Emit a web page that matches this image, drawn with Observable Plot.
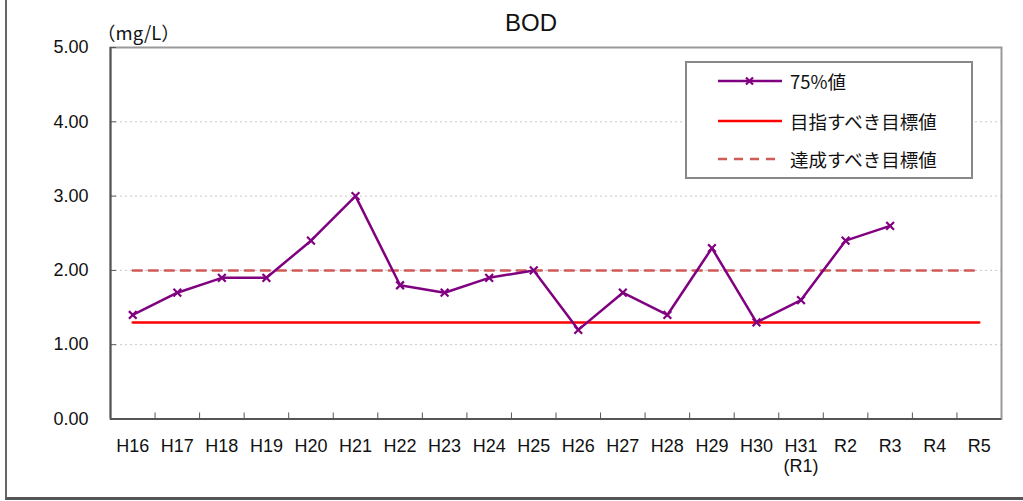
<!DOCTYPE html>
<html>
<head>
<meta charset="utf-8">
<script src="https://cdn.jsdelivr.net/npm/d3@7"></script>
<script src="https://cdn.jsdelivr.net/npm/@observablehq/plot@0.6"></script>
<style>
  html, body { margin: 0; padding: 0; background: #fff; }
  #wrap { position: relative; width: 1023px; height: 501px; overflow: hidden; font-family: "Liberation Sans", Arial, sans-serif; }
  #outer { position: absolute; left: 5px; top: -4px; width: 1030px; height: 504px; border-left: 2px solid #666; border-bottom: 3px solid #555; box-sizing: border-box; }
  #title { position: absolute; left: 0; width: 1062px; top: 9px; text-align: center; font-size: 24px; color: #111; }
  #unit { position: absolute; left: 97px; top: 19px; font-size: 18.5px; color: #111; font-family: "Noto Sans CJK JP", sans-serif; }
  #legend { position: absolute; left: 685px; top: 61px; width: 288px; height: 118px; border: 2px solid #888; box-sizing: border-box; background: #fff; }
  .row { position: absolute; left: 0; height: 24px; display: flex; align-items: center; }
  .row svg { margin-left: 31px; }
  .row span { margin-left: 8px; font-family: "Noto Sans CJK JP", sans-serif; font-size: 18.5px; color: #111; }
  #chart { position: absolute; left: 0; top: 0; }
</style>
</head>
<body>
<div id="wrap">
  <div id="chart"></div>
  <div id="outer"></div>
  <div id="title"></div>
  <div id="unit"></div>
  <div id="legend"></div>
</div>
<script>
const title = "BOD";
const unit = "（mg/L）";
const years = ["H16","H17","H18","H19","H20","H21","H22","H23","H24","H25","H26","H27","H28","H29","H30","H31\n(R1)","R2","R3","R4","R5"];
const values75 = [1.4,1.7,1.9,1.9,2.4,3.0,1.8,1.7,1.9,2.0,1.2,1.7,1.4,2.3,1.3,1.6,2.4,2.6,null,null];
const targetAim = 1.3;
const targetReach = 2.0;
const yTicks = [0,1,2,3,4,5];
const gridTicks = [1,2,3,4];
const seriesNames = ["75%値","目指すべき目標値","達成すべき目標値"];
const colors = {v75: "#800080", aim: "#ff0000", reach: "#d05a55"};

const rows = years.map((y, i) => ({year: y, v: values75[i]}));
const aimRows = years.map(y => ({year: y, v: targetAim}));
const reachRows = years.map(y => ({year: y, v: targetReach}));

const W = 1023, H = 501, ML = 110, MR = 22, MT = 47, MB = 82.5;
const bw = (W - ML - MR) / years.length;

const chart = Plot.plot({
  width: W, height: H,
  marginLeft: ML, marginRight: MR, marginTop: MT, marginBottom: MB,
  style: {fontFamily: "'Liberation Sans', Arial, sans-serif", fontSize: "18px", color: "#111", background: "transparent"},
  x: {type: "band", domain: years, padding: 0, round: false, label: null},
  y: {domain: [0, 5], label: null},
  marks: [
    Plot.gridY(gridTicks, {stroke: "#c8c8c8", strokeOpacity: 1, strokeDasharray: "2,3", strokeWidth: 1}),
    Plot.frame({stroke: "#999", strokeWidth: 2}),
    Plot.axisY(yTicks, {tickSize: -6, text: null, stroke: "#555"}),
    Plot.axisY(yTicks, {tickSize: 0, tickPadding: 22, tickFormat: d3.format(".2f"), fontSize: 18}),
    Plot.axisX(years, {tickSize: -6, text: null, dx: -bw / 2, stroke: "#555"}),
    Plot.axisX(years, {tickSize: 0, tickPadding: 18, fontSize: 18, lineHeight: 1.15}),
    Plot.ruleX([years[0]], {dx: -bw / 2, stroke: "#555", strokeWidth: 2}),
    Plot.ruleY([0], {stroke: "#555", strokeWidth: 2}),
    Plot.line(reachRows, {x: "year", y: "v", stroke: colors.reach, strokeWidth: 2.5, strokeDasharray: "9,7"}),
    Plot.line(aimRows, {x: "year", y: "v", stroke: colors.aim, strokeWidth: 2.5}),
    Plot.line(rows, {x: "year", y: "v", stroke: colors.v75, strokeWidth: 2.5}),
    Plot.dot(rows.filter(d => d.v != null), {x: "year", y: "v", symbol: "times", r: 3.6, stroke: colors.v75, strokeWidth: 2.2})
  ]
});
document.getElementById("chart").appendChild(chart);

document.getElementById("title").textContent = title;
document.getElementById("unit").textContent = unit;

const legend = document.getElementById("legend");
const samples = [
  `<svg width="64" height="12"><line x1="0" y1="6" x2="64" y2="6" stroke="${colors.v75}" stroke-width="2.5"/><path d="M28,2.5L35,9.5M35,2.5L28,9.5" stroke="${colors.v75}" stroke-width="2.2"/></svg>`,
  `<svg width="64" height="12"><line x1="0" y1="6" x2="64" y2="6" stroke="${colors.aim}" stroke-width="2.5"/></svg>`,
  `<svg width="64" height="12"><line x1="0" y1="6" x2="64" y2="6" stroke="${colors.reach}" stroke-width="2.5" stroke-dasharray="9,7"/></svg>`
];
const rowTops = [6, 46, 84];
seriesNames.forEach((name, i) => {
  const r = document.createElement("div");
  r.className = "row";
  r.style.top = rowTops[i] + "px";
  r.innerHTML = samples[i] + `<span>${name}</span>`;
  legend.appendChild(r);
});
</script>
</body>
</html>
